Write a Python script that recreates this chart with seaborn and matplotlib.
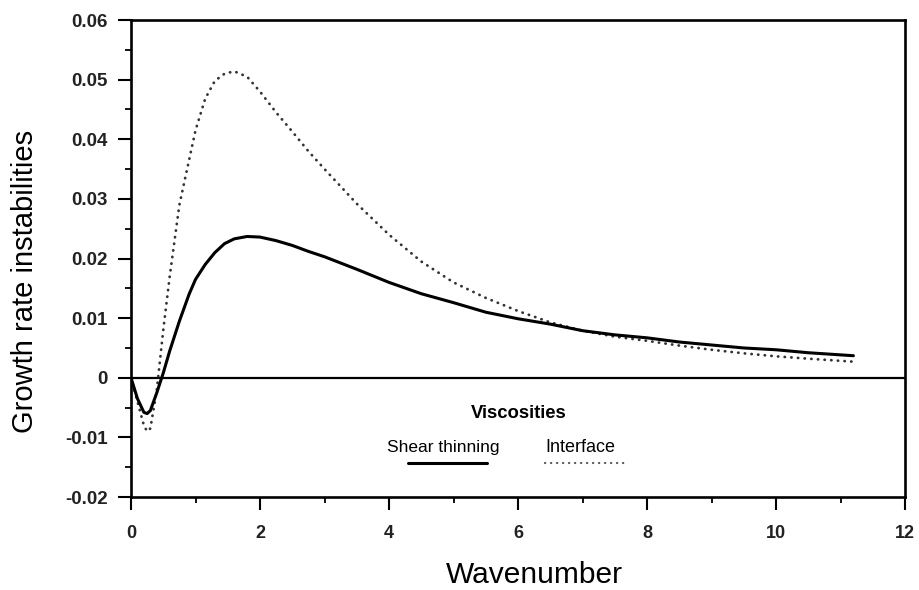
import numpy as np
import pandas as pd
import matplotlib
matplotlib.use("Agg")
import matplotlib.pyplot as plt
from matplotlib.ticker import MultipleLocator, FixedLocator
import seaborn as sns

# Wavenumber samples shared by both dispersion curves
wavenumber = [0.0, 0.1, 0.2, 0.25, 0.3, 0.4, 0.5, 0.6, 0.75, 0.9, 1.0, 1.15,
              1.3, 1.45, 1.6, 1.8, 2.0, 2.25, 2.5, 2.75, 3.0, 3.5, 4.0, 4.5,
              5.0, 5.5, 6.0, 6.5, 7.0, 7.5, 8.0, 8.5, 9.0, 9.5, 10.0, 10.5, 11.2]

# Growth rate, shear-thinning viscosity
shear_thinning = [0.0, -0.0035, -0.0058, -0.0060, -0.0055, -0.0025, 0.0008,
                  0.0045, 0.0095, 0.0140, 0.0165, 0.0190, 0.0210, 0.0225,
                  0.0233, 0.0237, 0.0236, 0.0230, 0.0222, 0.0212, 0.0203,
                  0.0182, 0.0160, 0.0141, 0.0126, 0.0110, 0.0099, 0.0090,
                  0.0079, 0.0072, 0.0067, 0.0060, 0.0055, 0.0050, 0.0047,
                  0.0042, 0.0037]

# Growth rate, interface viscosity
interface = [0.0, -0.0040, -0.0080, -0.0090, -0.0085, -0.0020, 0.0080,
             0.0170, 0.0290, 0.0365, 0.0415, 0.0468, 0.0498, 0.0510,
             0.0514, 0.0505, 0.0480, 0.0445, 0.0413, 0.0380, 0.0350,
             0.0292, 0.0240, 0.0195, 0.0160, 0.0134, 0.0112, 0.0093,
             0.0079, 0.0069, 0.0062, 0.0054, 0.0047, 0.0041, 0.0036,
             0.0032, 0.0027]

x_ticks = [0, 2, 4, 6, 8, 10, 12]
x_tick_labels = ["0", "2", "4", "6", "8", "10", "12"]
y_ticks = [-0.02, -0.01, 0.0, 0.01, 0.02, 0.03, 0.04, 0.05, 0.06]
y_tick_labels = ["-0.02", "-0.01", "0", "0.01", "0.02", "0.03", "0.04", "0.05", "0.06"]

legend_title = "Viscosities"
series_names = ["Shear thinning", "Interface"]

sns.set_theme(style="ticks")
plt.rcParams["font.family"] = ["Liberation Sans", "DejaVu Sans"]

df = pd.DataFrame({"k": wavenumber, "shear": shear_thinning, "interface": interface})

fig = plt.figure(figsize=(9.2, 5.9), dpi=100)
ax = fig.add_axes([0.1424, 0.1576, 0.8413, 0.8084])

dot_style = dict(color="#333333", lw=2.0, linestyle=(0, (0.1, 2.3)),
                 dash_capstyle="round")
key_dot_style = dict(color="#555555", lw=1.6, linestyle=(0, (0.1, 2.6)),
                     dash_capstyle="round")
solid_style = dict(color="black", lw=2.2)

sns.lineplot(data=df, x="k", y="interface", ax=ax, **dot_style)
sns.lineplot(data=df, x="k", y="shear", ax=ax, **solid_style)

ax.axhline(0, color="black", lw=1.6, zorder=1)

ax.set_xlim(0, 12)
ax.set_ylim(-0.02, 0.06)
ax.xaxis.set_major_locator(FixedLocator(x_ticks))
ax.set_xticklabels(x_tick_labels)
ax.xaxis.set_minor_locator(MultipleLocator(1))
ax.yaxis.set_major_locator(FixedLocator(y_ticks))
ax.set_yticklabels(y_tick_labels)
ax.yaxis.set_minor_locator(MultipleLocator(0.005))

for side in ["left", "right", "top", "bottom"]:
    ax.spines[side].set_visible(True)
    ax.spines[side].set_color("black")
    ax.spines[side].set_linewidth(1.9)

ax.tick_params(axis="both", which="major", direction="out", length=9.5,
               width=1.5, color="black")
ax.tick_params(axis="both", which="minor", direction="out", length=4,
               width=1.3, color="black")
ax.tick_params(axis="y", which="major", pad=7)
ax.tick_params(axis="x", which="major", pad=11)

for lbl in ax.get_yticklabels():
    lbl.set_fontsize(13.5)
    lbl.set_fontweight("bold")
    lbl.set_color("#222222")
for lbl in ax.get_xticklabels():
    lbl.set_fontsize(13)
    lbl.set_fontweight("bold")
    lbl.set_color("#222222")

ax.set_xlabel("Wavenumber", fontsize=21.5, color="black")
ax.set_ylabel("Growth rate instabilities", fontsize=21, color="black")
ax.xaxis.set_label_coords(0.521, -0.134)
ax.yaxis.set_label_coords(-0.119, 0.453)

# In-plot key: label above each line sample
ax.text(0.501, 0.176, legend_title, transform=ax.transAxes, ha="center",
        va="center", fontsize=13.3, fontweight="bold", color="black")
ax.text(0.331, 0.103, series_names[0], transform=ax.transAxes, ha="left",
        va="center", fontsize=12.5, color="black")
ax.text(0.535, 0.103, series_names[1], transform=ax.transAxes, ha="left",
        va="center", fontsize=13, color="black")
ax.plot([0.358, 0.460], [0.071, 0.071], transform=ax.transAxes, **solid_style)
ax.plot([0.535, 0.641], [0.071, 0.071], transform=ax.transAxes, **key_dot_style)

fig.savefig("out.png", dpi=100, facecolor="white")
